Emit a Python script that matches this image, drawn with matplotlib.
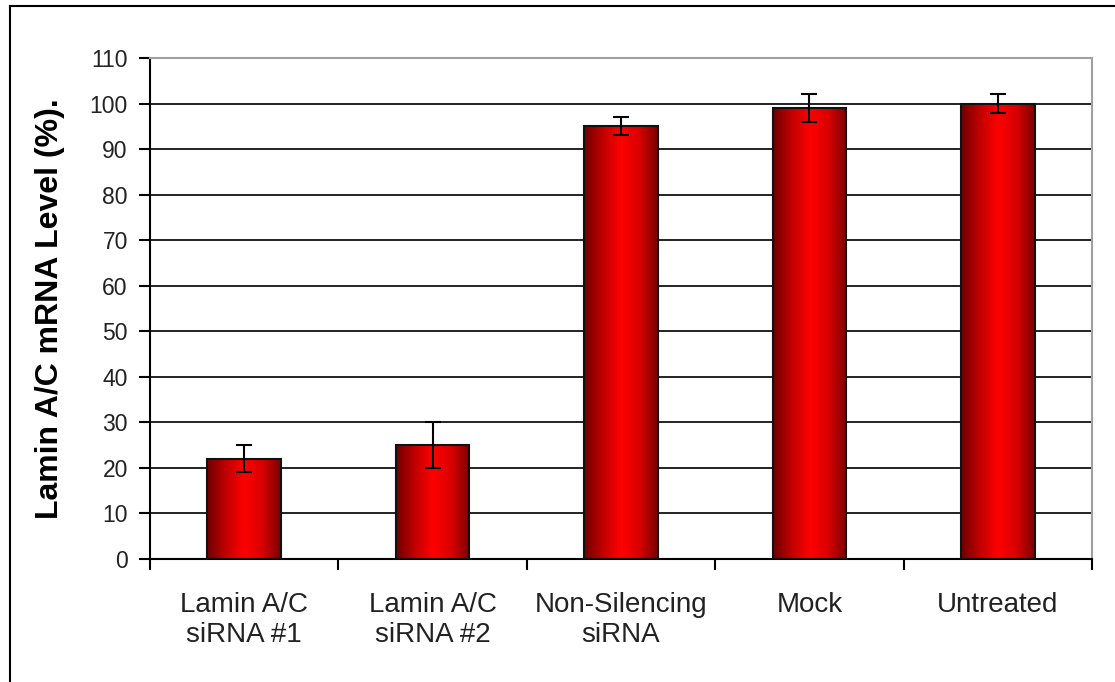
import numpy as np
import matplotlib
matplotlib.use('Agg')
import matplotlib.pyplot as plt
from matplotlib.colors import LinearSegmentedColormap
from matplotlib.lines import Line2D

categories = ['Lamin A/C\nsiRNA #1', 'Lamin A/C\nsiRNA #2', 'Non-Silencing\nsiRNA', 'Mock', 'Untreated']
levels = [22, 25, 95, 99, 100]
errors = [3, 5, 2, 3, 2]
yticks = list(range(0, 111, 10))

plt.rcParams['font.family'] = ['Liberation Sans', 'DejaVu Sans']

W, H = 1115, 682
fig = plt.figure(figsize=(W / 100, H / 100), dpi=100)
fig.patch.set_facecolor('white')

# outer chart border (only left and top visible)
fig.add_artist(Line2D([10 / W, 10 / W], [0, 1 - 6 / H], color='black', lw=1.5, transform=fig.transFigure))
fig.add_artist(Line2D([10 / W, 1], [1 - 6 / H, 1 - 6 / H], color='black', lw=1.5, transform=fig.transFigure))

ax = fig.add_axes([150 / W, (H - 559) / H, (1092 - 150) / W, (559 - 58) / H])
ax.set_xlim(-0.5, 4.5)
ax.set_ylim(0, 110)

# gridlines
for v in yticks[1:-1]:
    ax.axhline(v, color='#111111', lw=1.3, zorder=1)

cmap = LinearSegmentedColormap.from_list('bar', ['#6e0000', '#c00000', '#ff0000', '#d80000', '#7a0000'])
grad = np.linspace(0, 1, 256).reshape(1, -1)
bw = 0.39
for i, v in enumerate(levels):
    x0, x1 = i - bw / 2, i + bw / 2
    ax.imshow(grad, cmap=cmap, aspect='auto', extent=[x0, x1, 0, v], zorder=2, interpolation='bicubic')
    ax.add_patch(plt.Rectangle((x0, 0), bw, v, fill=False, edgecolor='#111111', lw=1.5, zorder=3))

ax.errorbar(range(len(levels)), levels, yerr=errors, fmt='none', ecolor='black',
            elinewidth=1.5, capsize=6, capthick=1.5, zorder=4)
ax.set_xlim(-0.5, 4.5)
ax.set_ylim(0, 110)

ax.spines['left'].set_color('black')
ax.spines['left'].set_linewidth(1.5)
ax.spines['bottom'].set_color('black')
ax.spines['bottom'].set_linewidth(1.5)
ax.spines['top'].set_color('#a0a0a0')
ax.spines['right'].set_color('#a0a0a0')
ax.spines['top'].set_linewidth(1.5)
ax.spines['right'].set_linewidth(1.5)

ax.set_yticks(yticks)
ax.set_yticklabels([str(t) for t in yticks], fontsize=16.5, color='#222222')
ax.tick_params(axis='y', direction='out', length=8, width=1.5, pad=8)

ax.set_xticks(range(len(categories)))
ax.set_xticklabels(categories, fontsize=20, color='#222222', linespacing=1.2)
ax.set_xticks(np.arange(-0.5, 4.6, 1), minor=True)
ax.tick_params(axis='x', which='major', length=0, pad=24)
ax.tick_params(axis='x', which='minor', direction='out', length=8, width=1.5)

ax.set_ylabel('Lamin A/C mRNA Level (%).', fontsize=23, fontweight='bold', labelpad=18)

fig.savefig('out.png', dpi=100)
